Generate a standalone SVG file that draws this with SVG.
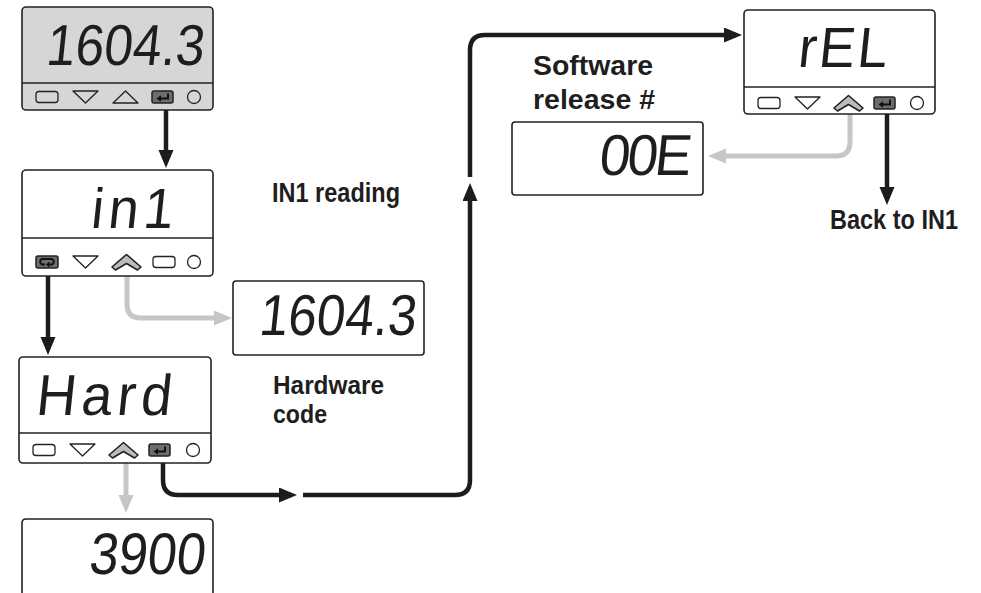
<svg xmlns="http://www.w3.org/2000/svg" xmlns:xlink="http://www.w3.org/1999/xlink" width="981" height="593" viewBox="0 0 981 593">
<style>
.dev{fill:#fff;stroke:#222;stroke-width:1.6}
.dev1{fill:#d5d6d8;stroke:#222;stroke-width:1.6}
.div{stroke:#222;stroke-width:1.6}
.btn{fill:#fff;stroke:#222;stroke-width:1.3}
.btn1{fill:#d5d6d8;stroke:#222;stroke-width:1.3}
.dk{fill:#6b6d70;stroke:#222;stroke-width:1.5}
.chev{fill:#b9bbbe;stroke:#222;stroke-width:1.6;stroke-linejoin:round}
.sym{fill:none;stroke:#111;stroke-width:2}
.seg{font-family:"Liberation Sans",Arial,sans-serif;font-weight:normal;fill:#1e1e20}
.lbl{font-family:"Liberation Sans",Arial,sans-serif;font-weight:bold;font-size:27px;fill:#1e1e20}
.lbs{font-size:25px}
.blk{fill:none;stroke:#1c1c1e;stroke-width:4.5;marker-end:url(#hb)}
.gry{fill:none;stroke:#c4c6ca;stroke-width:5;marker-end:url(#hg)}
</style>
<defs>
<marker id="hb" markerUnits="userSpaceOnUse" markerWidth="20" markerHeight="16" refX="12" refY="7.5" orient="auto"><path d="M0,0 L18,7.5 L0,15 Z" fill="#1c1c1e"/></marker>
<marker id="hg" markerUnits="userSpaceOnUse" markerWidth="20" markerHeight="16" refX="12" refY="7.5" orient="auto"><path d="M0,0 L18,7.5 L0,15 Z" fill="#c4c6ca"/></marker>
<g id="bRect"><rect x="14" y="-5.5" width="22" height="11" rx="3"/></g>
<g id="bDown"><polygon points="51,-6 76,-6 63.5,6" stroke-linejoin="round"/></g>
<g id="bUpChev"><path class="chev" d="M90,5 L104.5,-7.5 L119,5 L115.5,8 L104.5,1.5 L93.5,8 Z"/></g>
<g id="bEnter"><rect class="dk" x="130" y="-6" width="21" height="12" rx="2"/><path class="sym" d="M146,-3.5 V1.5 H138"/><path d="M134.5,1.5 L139,-1.8 L139,4.8 Z" fill="#111"/></g>
<g id="bLoop"><rect class="dk" x="14" y="-6" width="22" height="12" rx="2"/><path class="sym" d="M23,2.5 H20 A3,3 0 0 1 20,-3 H30 A3,3 0 0 1 30,2.5 H26"/><path d="M24,2.5 L27.5,-0.5 L27.5,5.5 Z" fill="#111"/></g>
</defs>

<g id="connectors">
<path class="blk" d="M166,104 V162"/>
<path class="blk" d="M48,270 V349"/>
<path class="gry" d="M127,272 V304 Q127,318 141,318 H226"/>
<path class="gry" d="M126,463 V507"/>
<path class="blk" d="M163,441 V480 Q163,495 178,495 H291"/>
<path class="blk" d="M303,495 H455 Q470,495 470,480 V189"/>
<path class="blk" d="M470,177 V50 Q470,35 485,35 H736"/>
<path class="gry" d="M850,113 V142 Q850,156 836,156 H714"/>
<path class="blk" d="M887,114 V199"/>
</g>

<g id="node-main">
<rect class="dev1" x="22" y="7" width="191" height="103" rx="4"/>
<line class="div" x1="22" y1="83" x2="213" y2="83"/>
<g transform="translate(203,65) skewX(-6) scale(1,1.05)"><text class="seg" x="0" y="0" font-size="55" text-anchor="end" textLength="158" lengthAdjust="spacingAndGlyphs">1604.3</text></g>
<g transform="translate(22,97)">
<use xlink:href="#bRect" class="btn1"/>
<use xlink:href="#bDown" class="btn1"/>
<polygon class="btn1" points="91,6 116,6 103.5,-6" stroke-linejoin="round"/>
<use xlink:href="#bEnter"/>
<circle class="btn1" cx="172" cy="0" r="6.5"/>
</g>
</g>

<g id="node-in1">
<rect class="dev" x="22" y="170" width="191" height="106" rx="4"/>
<line class="div" x1="22" y1="238" x2="213" y2="238"/>
<g transform="translate(172,228) skewX(-6) scale(1,1.05)"><text class="seg" x="0" y="0" font-size="54" text-anchor="end" textLength="82" lengthAdjust="spacing">in1</text></g>
<g transform="translate(22,262)">
<use xlink:href="#bLoop"/>
<use xlink:href="#bDown" class="btn"/>
<use xlink:href="#bUpChev"/>
<rect class="btn" x="131" y="-5.5" width="22" height="11" rx="3"/>
<circle class="btn" cx="172" cy="0" r="6.5"/>
</g>
</g>

<g id="node-in1-value">
<rect class="dev" x="233" y="281" width="191" height="74" rx="3"/>
<g transform="translate(415,335) skewX(-6) scale(1,1.05)"><text class="seg" x="0" y="0" font-size="55" text-anchor="end" textLength="157" lengthAdjust="spacingAndGlyphs">1604.3</text></g>
</g>

<g id="node-hard">
<rect class="dev" x="19" y="357" width="192" height="106" rx="4"/>
<line class="div" x1="19" y1="433" x2="211" y2="433"/>
<g transform="translate(170,415) skewX(-6) scale(1,1.05)"><text class="seg" x="0" y="0" font-size="55" text-anchor="end" textLength="135" lengthAdjust="spacing">Hard</text></g>
<g transform="translate(19,450)">
<use xlink:href="#bRect" class="btn"/>
<use xlink:href="#bDown" class="btn"/>
<use xlink:href="#bUpChev"/>
<use xlink:href="#bEnter"/>
<circle class="btn" cx="174" cy="0" r="6.5"/>
</g>
</g>

<g id="node-hard-value">
<path class="dev" d="M22,600 V523 Q22,519 26,519 H209 Q213,519 213,523 V600"/>
<g transform="translate(204,574) skewX(-6) scale(1,1.05)"><text class="seg" x="0" y="0" font-size="56" text-anchor="end" textLength="116" lengthAdjust="spacingAndGlyphs">3900</text></g>
</g>

<g id="node-rel">
<rect class="dev" x="744" y="10" width="191" height="104" rx="4"/>
<line class="div" x1="744" y1="87" x2="935" y2="87"/>
<g transform="translate(886,67) skewX(-6) scale(1,1.05)"><text class="seg" x="0" y="0" font-size="54" text-anchor="end" textLength="89" lengthAdjust="spacing">rEL</text></g>
<g transform="translate(744,103)">
<use xlink:href="#bRect" class="btn"/>
<use xlink:href="#bDown" class="btn"/>
<use xlink:href="#bUpChev"/>
<use xlink:href="#bEnter"/>
<circle class="btn" cx="173" cy="0" r="6.5"/>
</g>
</g>

<g id="node-rel-value">
<rect class="dev" x="512" y="122" width="191" height="73" rx="3"/>
<g transform="translate(690,175) skewX(-6) scale(1,1.05)"><text class="seg" x="0" y="0" font-size="55" text-anchor="end" textLength="92" lengthAdjust="spacing">00E</text></g>
</g>

<g id="labels">
<text class="lbl" x="272" y="202" textLength="128" lengthAdjust="spacingAndGlyphs">IN1 reading</text>
<text class="lbl lbs" x="273" y="394" textLength="111" lengthAdjust="spacingAndGlyphs">Hardware</text>
<text class="lbl lbs" x="273" y="423" textLength="54" lengthAdjust="spacingAndGlyphs">code</text>
<text class="lbl" x="533" y="75" textLength="120" lengthAdjust="spacingAndGlyphs">Software</text>
<text class="lbl" x="533" y="109" textLength="122" lengthAdjust="spacingAndGlyphs">release #</text>
<text class="lbl" x="830" y="229" textLength="128" lengthAdjust="spacingAndGlyphs">Back to IN1</text>
</g>
</svg>
